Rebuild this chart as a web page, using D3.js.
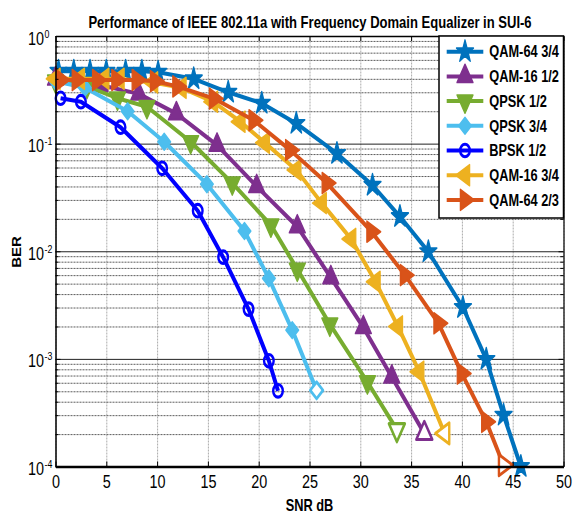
<!DOCTYPE html>
<html>
<head>
<meta charset="utf-8">
<script src="https://cdn.jsdelivr.net/npm/d3@7"></script>
<style>
    body { margin: 0; background: #fff; }
    text { font-family: "Liberation Sans", Arial, sans-serif; fill: #000; }
</style>
</head>
<body>
<div id="chart"></div>
<script>
// Data
const xTicks = [0, 5, 10, 15, 20, 25, 30, 35, 40, 45, 50];
const yExponents = [0, -1, -2, -3, -4];

const seriesNames = ["QAM-64 3/4", "QAM-16 1/2", "QPSK 1/2", "QPSK 3/4", "BPSK 1/2", "QAM-16 3/4", "QAM-64 2/3"];

const snrQam64_34 = [0.3, 1.8, 3.4, 5.0, 6.9, 8.5, 10.1, 13.6, 17.0, 20.3, 23.7, 27.7, 31.2, 33.9, 36.7, 40.1, 42.4, 44.1, 45.8];
const berQam64_34 = [0.47, 0.47, 0.47, 0.47, 0.47, 0.47, 0.46, 0.40, 0.30, 0.237, 0.154, 0.081, 0.041, 0.021, 0.0099, 0.0030, 0.00099, 0.00030, 0.00010];

const snrQam16_12 = [0, 4.4, 8.2, 11.9, 15.9, 19.8, 23.8, 27.1, 30.3, 33.1, 36.3];
const berQam16_12 = [0.40, 0.35, 0.29, 0.19, 0.097, 0.040, 0.0169, 0.0057, 0.00196, 0.00068, 0.000203];

const snrQpsk12 = [0, 3.1, 6.1, 9.0, 13.3, 17.4, 21.2, 23.8, 27.0, 30.7, 33.6];
const berQpsk12 = [0.38, 0.34, 0.264, 0.22, 0.104, 0.043, 0.0175, 0.0068, 0.0021, 0.00061, 0.00022];

const snrQpsk34 = [0, 2.9, 7.1, 10.7, 14.9, 18.6, 21.0, 23.3, 25.7];
const berQpsk34 = [0.38, 0.33, 0.20, 0.104, 0.042, 0.0154, 0.0056, 0.00185, 0.00051];

const snrBpsk12 = [0.5, 2.5, 6.4, 10.5, 14.0, 16.5, 19.0, 21.0, 21.9];
const berBpsk12 = [0.264, 0.245, 0.142, 0.059, 0.0238, 0.0088, 0.0029, 0.00096, 0.000505];

const snrQam16_34 = [0, 2.4, 4.8, 6.3, 9.6, 12.4, 15.5, 18.2, 20.6, 23.7, 26.2, 29.1, 31.5, 33.7, 35.8, 38.3];
const berQam16_34 = [0.40, 0.40, 0.40, 0.40, 0.37, 0.33, 0.245, 0.16, 0.102, 0.057, 0.028, 0.013, 0.0052, 0.0020, 0.00076, 0.000203];

const snrQam64_23 = [0.5, 2.1, 4.1, 6.0, 8.0, 9.8, 12.0, 15.6, 19.5, 23.1, 26.7, 31.1, 34.4, 37.7, 40.0, 42.4, 44.1];
const berQam64_23 = [0.39, 0.39, 0.39, 0.39, 0.39, 0.38, 0.34, 0.262, 0.165, 0.087, 0.043, 0.0152, 0.0060, 0.00214, 0.00073, 0.00026, 0.000103];

// Series styling
const series = [
    { name: seriesNames[0], snr: snrQam64_34, ber: berQam64_34, color: "#0072BD", sym: d3.symbolStar, size: 140, rot: 0, hollowLast: false },
    { name: seriesNames[1], snr: snrQam16_12, ber: berQam16_12, color: "#7E2F8E", sym: d3.symbolTriangle, size: 173, rot: 0, hollowLast: true },
    { name: seriesNames[2], snr: snrQpsk12, ber: berQpsk12, color: "#77AC30", sym: d3.symbolTriangle, size: 173, rot: 180, hollowLast: true },
    { name: seriesNames[3], snr: snrQpsk34, ber: berQpsk34, color: "#4DBEEE", sym: d3.symbolSquare, size: 128, rot: 45, hollowLast: true },
    { name: seriesNames[4], snr: snrBpsk12, ber: berBpsk12, color: "#0000FF", sym: d3.symbolCircle, size: 113, rot: 0, hollowLast: true, open: true },
    { name: seriesNames[5], snr: snrQam16_34, ber: berQam16_34, color: "#EDB120", sym: d3.symbolTriangle, size: 173, rot: -90, hollowLast: true },
    { name: seriesNames[6], snr: snrQam64_23, ber: berQam64_23, color: "#D95319", sym: d3.symbolTriangle, size: 173, rot: 90, hollowLast: true }
];

// Dimensions and margins
const margin = { top: 36, right: 9.5, bottom: 48.5, left: 55.5 },
    width = 573 - margin.left - margin.right,
    height = 515 - margin.top - margin.bottom;

const svgRoot = d3.select("#chart")
    .append("svg")
    .attr("width", 573)
    .attr("height", 515);

const svg = svgRoot.append("g")
    .attr("transform", `translate(${margin.left},${margin.top})`);

const x = d3.scaleLinear().domain([0, 50]).range([0, width]);
const y = d3.scaleLog().domain([1e-4, 1]).range([height, 0]);

const decades = yExponents.map(e => Math.pow(10, e));
const minors = [];
yExponents.slice(1).forEach(e => {
    for (let k = 2; k <= 9; k++) minors.push(k * Math.pow(10, e));
});

const SX = 0.8; // figure is horizontally squeezed

// Grid lines
svg.append("g")
    .attr("class", "grid")
    .attr("transform", `translate(0,${height})`)
    .call(d3.axisBottom(x).tickValues(xTicks).tickSize(-height).tickFormat(""))
    .call(g => g.select(".domain").remove())
    .call(g => g.selectAll("line").attr("stroke", "#ababab").attr("stroke-dasharray", "2,1"));

svg.append("g")
    .attr("class", "grid")
    .call(d3.axisLeft(y).tickValues(minors).tickSize(-width).tickFormat(""))
    .call(g => g.select(".domain").remove())
    .call(g => g.selectAll("line").attr("stroke", "#5c5c5c").attr("stroke-dasharray", "2,1"));

svg.append("g")
    .attr("class", "grid")
    .call(d3.axisLeft(y).tickValues(decades).tickSize(-width).tickFormat(""))
    .call(g => g.select(".domain").remove())
    .call(g => g.selectAll("line").attr("stroke", "#222"));

// Lines and markers
const line = d3.line()
    .x(d => x(d[0]))
    .y(d => y(d[1]));

series.forEach(s => {
    const pts = s.snr.map((v, i) => [v, s.ber[i]]);
    svg.append("path")
        .datum(pts)
        .attr("fill", "none")
        .attr("stroke", s.color)
        .attr("stroke-width", 4)
        .attr("stroke-linejoin", "round")
        .attr("d", line);

    svg.selectAll(null)
        .data(pts)
        .enter()
        .append("path")
        .attr("d", d3.symbol().type(s.sym).size(s.size))
        .attr("transform", d => `translate(${x(d[0])},${y(d[1])}) scale(${SX},1.05) rotate(${s.rot})`)
        .attr("fill", (d, i) => s.open ? "none" : (s.hollowLast && i === pts.length - 1 ? "#fff" : s.color))
        .attr("stroke", s.color)
        .attr("stroke-linejoin", "round")
        .attr("stroke-width", (d, i) => s.open ? 3 : (s.hollowLast && i === pts.length - 1 ? 3 : 1.6));
});

// Box and ticks
svg.append("g")
    .attr("transform", `translate(0,${height})`)
    .call(d3.axisBottom(x).tickValues(xTicks).tickSizeInner(-5).tickSizeOuter(0))
    .call(g => g.select(".domain").attr("stroke-width", 2.5))
    .call(g => g.selectAll("text")
        .attr("dy", null)
        .attr("y", null)
        .attr("transform", `translate(0,21.5) scale(${SX},1)`)
        .style("font-size", "18px"));

svg.append("g")
    .call(d3.axisTop(x).tickValues(xTicks).tickSizeInner(-5).tickSizeOuter(0).tickFormat(""))
    .call(g => g.select(".domain").attr("stroke-width", 1.5));

svg.append("g")
    .call(d3.axisLeft(y).tickValues(minors).tickSizeInner(-3).tickSizeOuter(0).tickFormat(""))
    .call(g => g.select(".domain").attr("stroke-width", 1.5));

svg.append("g")
    .attr("transform", `translate(${width},0)`)
    .call(d3.axisRight(y).tickValues(minors).tickSizeInner(-3).tickSizeOuter(0).tickFormat(""))
    .call(g => g.select(".domain").attr("stroke-width", 1.2));

svg.append("g")
    .attr("transform", `translate(${width},0)`)
    .call(d3.axisRight(y).tickValues(decades).tickSizeInner(-5).tickSizeOuter(0).tickFormat(""))
    .call(g => g.select(".domain").remove());

const yAxis = svg.append("g")
    .call(d3.axisLeft(y).tickValues(decades).tickSizeInner(-5).tickSizeOuter(0).tickFormat(""))
    .call(g => g.select(".domain").remove());

yAxis.selectAll(".tick").each(function (d) {
    const t = d3.select(this);
    t.select("text").remove();
    t.append("text")
        .attr("transform", `translate(-11.5,8) scale(${SX},1)`)
        .attr("text-anchor", "end")
        .style("font-size", "18px")
        .text("10");
    t.append("text")
        .attr("transform", `translate(-11,1) scale(${SX},1)`)
        .attr("text-anchor", "start")
        .style("font-size", "11px")
        .text(Math.round(Math.log10(d)));
});

// Legend
const legend = svgRoot.append("g").attr("transform", "translate(439,36)");
legend.append("rect")
    .attr("width", 124.5)
    .attr("height", 182)
    .attr("fill", "#fff")
    .attr("stroke", "#000")
    .attr("stroke-width", 1.5);

series.forEach((s, i) => {
    const ly = 15.7 + i * 24.7;
    legend.append("line")
        .attr("x1", 7.7).attr("x2", 44.3)
        .attr("y1", ly).attr("y2", ly)
        .attr("stroke", s.color)
        .attr("stroke-width", 4);
    legend.append("path")
        .attr("d", d3.symbol().type(s.sym).size(s.size))
        .attr("transform", `translate(26,${ly}) scale(${SX},1.05) rotate(${s.rot})`)
        .attr("fill", s.open ? "none" : s.color)
        .attr("stroke", s.color)
        .attr("stroke-linejoin", "round")
        .attr("stroke-width", s.open ? 3 : 1.6);
    legend.append("text")
        .attr("transform", `translate(50.3,${ly + 5.7}) scale(${SX},1)`)
        .style("font-size", "16px")
        .style("font-weight", "bold")
        .text(s.name);
});

// Titles
svgRoot.append("text")
    .attr("transform", `translate(310,27.5) scale(${SX},1)`)
    .attr("text-anchor", "middle")
    .style("font-size", "16.3px")
    .style("font-weight", "bold")
    .text("Performance of IEEE 802.11a with Frequency Domain Equalizer in SUI-6");

svgRoot.append("text")
    .attr("transform", `translate(309.5,511) scale(${SX},1)`)
    .attr("text-anchor", "middle")
    .style("font-size", "16px")
    .style("font-weight", "bold")
    .text("SNR dB");

svgRoot.append("text")
    .attr("transform", `translate(21,252) scale(${SX},1) rotate(-90)`)
    .attr("text-anchor", "middle")
    .style("font-size", "15px")
    .style("font-weight", "bold")
    .text("BER");
</script>
</body>
</html>
